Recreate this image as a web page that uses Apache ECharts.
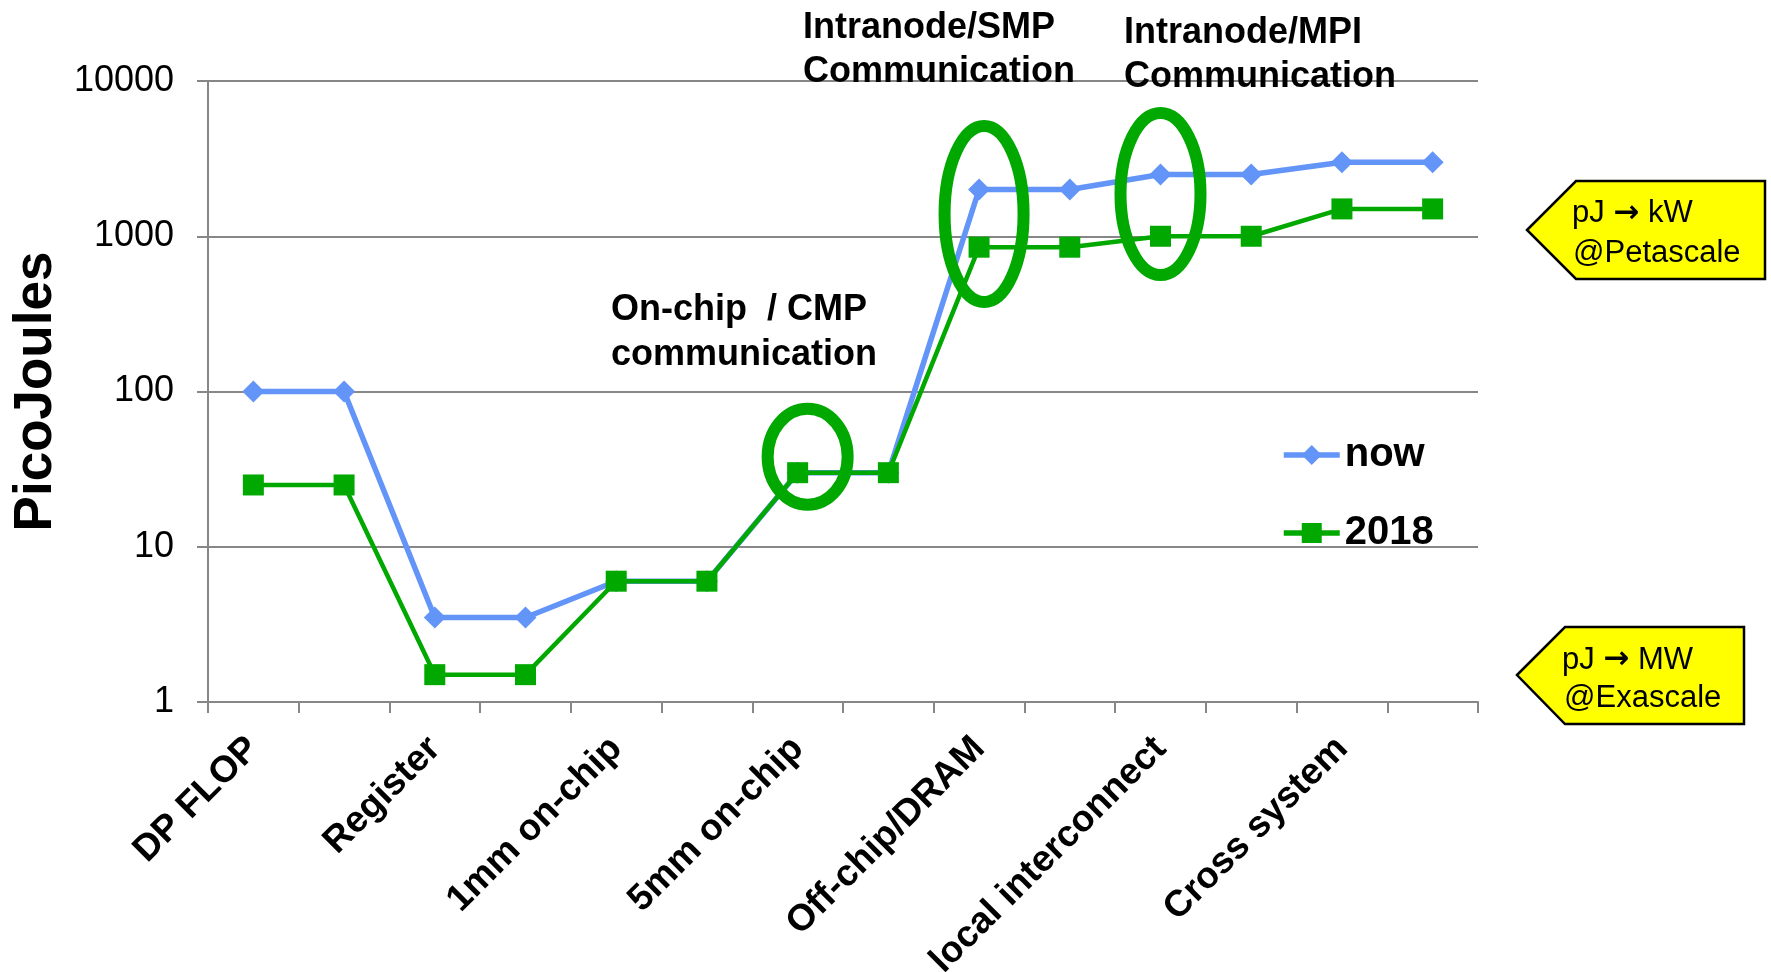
<!DOCTYPE html>
<html>
<head>
<meta charset="utf-8">
<script src="https://cdn.jsdelivr.net/npm/echarts@6/dist/echarts.min.js"></script>
<style>
  html, body { margin: 0; padding: 0; background: #ffffff; }
  #chart { width: 1771px; height: 972px; }
</style>
</head>
<body>
<div id="chart"></div>
<script>
const categories = ['DP FLOP', '', 'Register', '', '1mm on-chip', '', '5mm on-chip', '',
  'Off-chip/DRAM', '', 'local interconnect', '', 'Cross system', ''];
const nowValues = [100, 100, 3.5, 3.5, 6, 6, 30, 30, 2000, 2000, 2500, 2500, 3000, 3000];
const values2018 = [25, 25, 1.5, 1.5, 6, 6, 30, 30, 850, 850, 1000, 1000, 1500, 1500];
const yTickLabels = ['1', '10', '100', '1000', '10000'];
const seriesNames = ['now', '2018'];
const yAxisName = 'PicoJoules';

// annotation ellipses anchored to category index / value
const highlightCats = [6, 8, 10];
const highlightVals = [38, 1390, 1870];

const FONT = "'Liberation Sans', Arial, sans-serif";
const BLUE = '#6394F8';
const GREEN = '#00A800';
const GRAY = '#878787';

const chart = echarts.init(document.getElementById('chart'), null, { renderer: 'canvas' });

chart.setOption({
  animation: false,
  backgroundColor: '#ffffff',
  grid: { left: 208, right: 293, top: 81, bottom: 270, outerBoundsMode: 'none', containLabel: false },
  legend: {
    orient: 'vertical',
    left: 1281,
    top: 435,
    padding: 0,
    itemWidth: 56,
    itemHeight: 25,
    itemGap: 38,
    lineStyle: { width: 5.5 },
    textStyle: { fontFamily: FONT, fontSize: 40, fontWeight: 'bold', color: '#000', lineHeight: 40 },
    data: seriesNames
  },
  xAxis: {
    type: 'category',
    data: categories,
    boundaryGap: true,
    axisLine: { show: true, lineStyle: { color: GRAY, width: 2 } },
    axisTick: { show: true, interval: 0, length: 11, lineStyle: { color: GRAY, width: 2 } },
    axisLabel: {
      interval: 0,
      rotate: 45,
      margin: 41,
      fontFamily: FONT,
      fontSize: 37,
      fontWeight: 'bold',
      color: '#000'
    },
    splitLine: { show: false }
  },
  yAxis: {
    type: 'log',
    logBase: 10,
    min: 1,
    max: 10000,
    name: yAxisName,
    nameLocation: 'middle',
    nameGap: 141,
    nameTextStyle: { fontFamily: FONT, fontSize: 53, fontWeight: 'bold', color: '#000' },
    axisLine: { show: true, lineStyle: { color: GRAY, width: 2 } },
    axisTick: { show: true, length: 11, lineStyle: { color: GRAY, width: 2 } },
    axisLabel: {
      margin: 34,
      fontFamily: FONT,
      fontSize: 36,
      color: '#000',
      formatter: function (v) {
        const e = Math.round(Math.log10(v));
        return yTickLabels[e] !== undefined ? yTickLabels[e] : String(v);
      }
    },
    splitLine: { show: true, lineStyle: { color: GRAY, width: 2 } },
    minorTick: { show: false },
    minorSplitLine: { show: false }
  },
  series: [
    {
      name: seriesNames[0],
      type: 'line',
      data: nowValues,
      symbol: 'diamond',
      symbolSize: 22,
      color: BLUE,
      lineStyle: { color: BLUE, width: 5.5 },
      itemStyle: { color: BLUE },
      z: 3
    },
    {
      name: seriesNames[1],
      type: 'line',
      data: values2018,
      symbol: 'rect',
      symbolSize: 21,
      color: GREEN,
      lineStyle: { color: GREEN, width: 4.5 },
      itemStyle: { color: GREEN },
      z: 4
    }
  ]
});

// annotations
const ellipseSize = [[40, 48], [39.5, 88], [40, 81]];
const ellipseDx = [10, 5, 0];
const graphics = [];
highlightCats.forEach(function (c, i) {
  const p = chart.convertToPixel({ gridIndex: 0 }, [c, highlightVals[i]]);
  graphics.push({
    type: 'ellipse',
    z: 100,
    shape: { cx: p[0] + ellipseDx[i], cy: p[1], rx: ellipseSize[i][0], ry: ellipseSize[i][1] },
    style: { fill: 'none', stroke: GREEN, lineWidth: 12 }
  });
});

function txt(str, x, y, size, weight) {
  return {
    type: 'text', z: 110, x: x, y: y,
    style: {
      text: str, fill: '#000', font: weight + ' ' + size + 'px ' + FONT,
      textAlign: 'left', textVerticalAlign: 'middle',
      rich: {
        a: { fontFamily: 'DejaVu Sans', fontWeight: 'bold', fontSize: size, fill: '#000' }
      }
    }
  };
}
graphics.push(txt('Intranode/SMP', 803, 28.5, 36, 'bold'));
graphics.push(txt('Communication', 803, 72, 36, 'bold'));
graphics.push(txt('Intranode/MPI', 1124, 33, 36, 'bold'));
graphics.push(txt('Communication', 1124, 77.5, 36, 'bold'));
graphics.push(txt('On-chip  / CMP', 611, 310.5, 36, 'bold'));
graphics.push(txt('communication', 611, 355.5, 36, 'bold'));

graphics.push({
  type: 'polygon', z: 105,
  shape: { points: [[1527, 230], [1576, 181], [1765, 181], [1765, 279], [1576, 279]] },
  style: { fill: '#FFFF00', stroke: '#000', lineWidth: 2.5 }
});
graphics.push({
  type: 'polygon', z: 105,
  shape: { points: [[1517, 675], [1565, 627], [1744, 627], [1744, 724], [1565, 724]] },
  style: { fill: '#FFFF00', stroke: '#000', lineWidth: 2.5 }
});
graphics.push(txt('pJ {a|\u2192} kW', 1572, 213.5, 31, 'normal'));
graphics.push(txt('@Petascale', 1573, 253.5, 31, 'normal'));
graphics.push(txt('pJ {a|\u2192} MW', 1562, 660, 31, 'normal'));
graphics.push(txt('@Exascale', 1564, 698, 31, 'normal'));

chart.setOption({ graphic: graphics });
</script>
</body>
</html>
